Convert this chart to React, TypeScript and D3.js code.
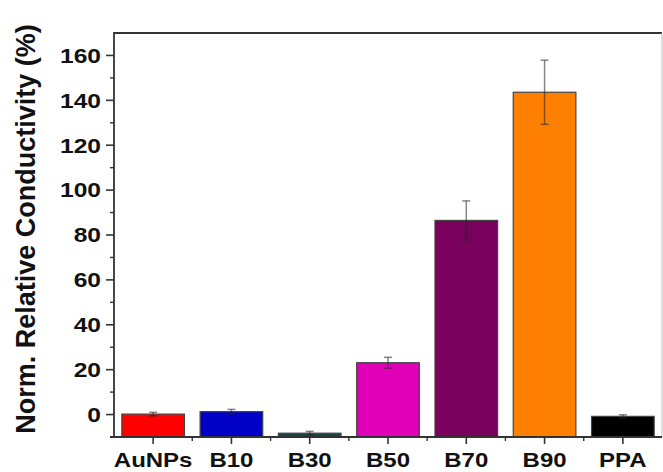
import React from "react";
import * as d3 from "d3";

const categories = ["AuNPs", "B10", "B30", "B50", "B70", "B90", "PPA"];
const values = [0.2, 1.3, -8.3, 23.1, 86.5, 143.6, -0.8];
const errors = [0.8, 1.0, 0.8, 2.4, 8.7, 14.3, 0.7];
const colors = ["#ff0000", "#0000c8", "#1a4545", "#e000b8", "#7a005e", "#ff8000", "#000000"];
const majorTicks = [0, 20, 40, 60, 80, 100, 120, 140, 160];
const minorTicks = [-10, 10, 30, 50, 70, 90, 110, 130, 150];
const yLabel = "Norm. Relative Conductivity (%)";

const W = 663;
const H = 472;
const left = 114;
const right = 662;
const top = 33;
const bottom = 437;
const font = "'Liberation Sans', Arial, sans-serif";
const stretch = 1.2;

export default function App() {
  const x = d3.scaleBand<string>().domain(categories).range([left, right]).paddingInner(0.2).paddingOuter(0.1);
  const y = d3.scaleLinear().domain([-10, 170]).range([bottom, top]);
  const step = x.step();
  const boundaries = categories.map((c) => (x(c) as number) + x.bandwidth() / 2 + step / 2);
  const axisColor = "#333";
  return (
    <svg width={W} height={H} style={{ position: "absolute", left: 0, top: 0, background: "#fff" }}>
      <rect x={0} y={0} width={W} height={H} fill="#fff" />
      {categories.map((c, i) => {
        const bx = x(c) as number;
        const bw = x.bandwidth();
        return (
          <rect key={c} x={bx} y={y(Math.max(values[i], -10))} width={bw} height={y(-10) - y(values[i])}
            fill={colors[i]} stroke="#444" strokeWidth={1.2} />
        );
      })}
      {categories.map((c, i) => {
        const cx = (x(c) as number) + x.bandwidth() / 2;
        const y1 = y(values[i] + errors[i]);
        const y2 = y(values[i] - errors[i]);
        return (
          <g key={"e" + c} stroke="#222" strokeOpacity={0.55} strokeWidth={1.5}>
            <line x1={cx} x2={cx} y1={y1} y2={y2} />
            <line x1={cx - 4} x2={cx + 4} y1={y1} y2={y1} />
            <line x1={cx - 4} x2={cx + 4} y1={y2} y2={y2} />
          </g>
        );
      })}
      {/* frame */}
      <line x1={left} x2={right} y1={top} y2={top} stroke={axisColor} strokeWidth={2} />
      <line x1={right} x2={right} y1={top} y2={bottom} stroke="#bbb" strokeWidth={1} />
      <line x1={left} x2={left} y1={top - 1} y2={bottom} stroke={axisColor} strokeWidth={1.8} />
      <line x1={left - 4} x2={right} y1={bottom} y2={bottom} stroke={axisColor} strokeWidth={1.8} />
      {majorTicks.map((t) => (
        <g key={"yt" + t}>
          <line x1={left - 8} x2={left} y1={y(t)} y2={y(t)} stroke={axisColor} strokeWidth={1.6} />
          <text x={(left - 13) / stretch} y={y(t)} dy="0.36em" textAnchor="end" fontFamily={font}
            fontWeight="bold" fontSize={20.5} fill="#111" transform={`scale(${stretch},1)`}>
            {t}
          </text>
        </g>
      ))}
      {minorTicks.map((t) => (
        <line key={"ym" + t} x1={left - 4} x2={left} y1={y(t)} y2={y(t)} stroke={axisColor} strokeWidth={1.4} />
      ))}
      {categories.map((c) => {
        const cx = (x(c) as number) + x.bandwidth() / 2;
        return (
          <g key={"xt" + c}>
            <line x1={cx} x2={cx} y1={bottom} y2={bottom + 7} stroke={axisColor} strokeWidth={1.6} />
            <text x={cx / stretch} y={467} textAnchor="middle" fontFamily={font} fontWeight="bold"
              fontSize={20} fill="#111" transform={`scale(${stretch},1)`}>
              {c}
            </text>
          </g>
        );
      })}
      {boundaries.slice(0, -1).map((b, i) => (
        <line key={"xm" + i} x1={b} x2={b} y1={bottom} y2={bottom + 4} stroke={axisColor} strokeWidth={1.4} />
      ))}
      <text transform={`translate(35,229) rotate(-90)`} textAnchor="middle" fontFamily={font}
        fontWeight="bold" fontSize={27} fill="#111">
        {yLabel}
      </text>
    </svg>
  );
}
